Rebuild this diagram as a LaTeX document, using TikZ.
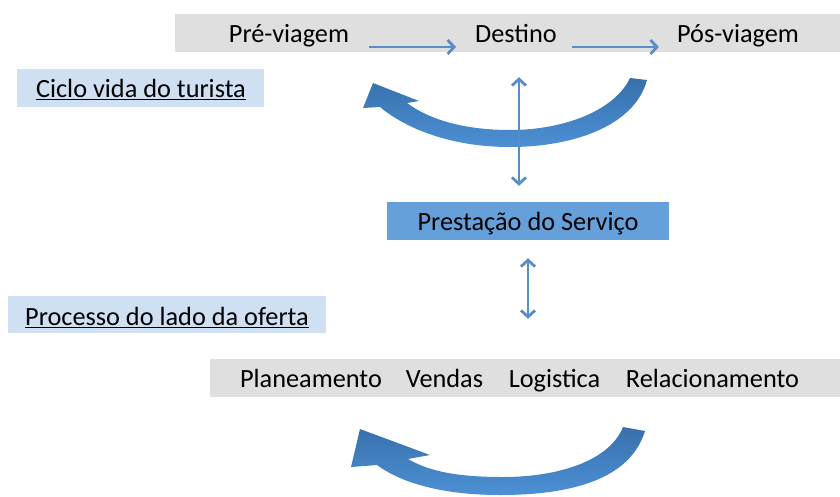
\documentclass[tikz,border=0pt]{standalone}
\usepackage{fontspec}
\setmainfont{Carlito}
\usetikzlibrary{arrows.meta}
\definecolor{barGray}{RGB}{223,223,223}
\definecolor{lightBlue}{RGB}{207,224,242}
\definecolor{servBlue}{RGB}{101,160,219}
\definecolor{arrBlue}{RGB}{88,141,200}
\definecolor{bandTop}{RGB}{56,112,172}
\definecolor{bandBot}{RGB}{76,144,212}
\begin{document}
\begin{tikzpicture}[x=1pt,y=-1pt,
  lbl/.style={font=\fontsize{26.3}{30}\selectfont, text height=18pt, text depth=0pt, inner sep=0pt},
  bar/.style={fill=barGray, inner sep=0pt, minimum height=38pt},
  tagbox/.style={fill=lightBlue, inner sep=0pt, minimum height=38pt},
  ul/.style={line width=1.7pt, black},
  arr/.style={draw=arrBlue, line width=2.8pt, -{Straight Barb[length=6.5pt,width=14pt,line width=2.8pt]}},
  dbl/.style={draw=arrBlue, line width=2.8pt, {Straight Barb[length=6.5pt,width=14pt,line width=2.8pt]}-{Straight Barb[length=6.5pt,width=14pt,line width=2.8pt]}},
  band/.style={top color=bandTop, bottom color=bandBot}
]
\useasboundingbox (0,0) rectangle (840,496);

% top bar
\node[bar, minimum width=665pt] (bar1) at (507.5,33) {};
\node[lbl] (pre) at (289,33) {Pré-viagem};
\node[lbl] (dest) at (516,33) {Destino};
\node[lbl] (pos) at (738,33) {Pós-viagem};
\draw[arr, shorten <=20pt, shorten >=19pt] ([yshift=-14pt]pre.east) -- ([yshift=-14pt]dest.west);
\draw[arr, shorten <=15pt, shorten >=18pt] ([yshift=-14pt]dest.east) -- ([yshift=-14pt]pos.west);

% ciclo tag
\node[tagbox, minimum width=247pt] (ciclo) at (140.5,88) {};
\node[lbl] (cicloT) at (141,88) {Ciclo vida do turista};
\draw[ul] ([yshift=-2.5pt]cicloT.base west) -- ([yshift=-2.5pt]cicloT.base east);

% top curved arrow
\shade[band] (647,80) .. controls (635,125) and (575,147) .. (510,147)
  .. controls (450,147) and (405,128) .. (380,107) -- (363,108) -- (373,83) -- (419,101) -- (407,103)
  .. controls (430,120) and (465,130) .. (510,130)
  .. controls (565,130) and (615,110) .. (630,78) -- cycle;

% service box
\node[lbl, fill=servBlue, minimum width=282pt, minimum height=38pt] (prest) at (528,221) {Prestação do Serviço};
\draw[dbl, shorten <=35pt, shorten >=16pt] ([xshift=3pt]dest.south) -- ([xshift=3pt]dest.south |- prest.north);

% processo tag
\node[tagbox, minimum width=318pt, minimum height=37pt] (proc) at (167,314.5) {};
\node[lbl] (procT) at (167,316) {Processo do lado da oferta};
\draw[ul] ([yshift=-2.5pt]procT.base west) -- ([yshift=-2.5pt]procT.base east);

% bottom bar
\node[bar, minimum width=630pt] (bar2) at (525,378) {};
\node[lbl] (plan) at (311,378) {Planeamento};
\node[lbl] (vend) at (444.5,378) {Vendas};
\node[lbl] (logi) at (554.5,378) {Logistica};
\node[lbl] (rela) at (712.5,378) {Relacionamento};
\draw[dbl, shorten <=18pt, shorten >=40pt] (prest.south) -- (prest.south |- bar2.north);

% bottom curved arrow
\shade[band] (645,431) .. controls (630,480) and (570,495) .. (500,495)
  .. controls (440,495) and (400,482) .. (377,465) -- (351,467) -- (360,429) -- (430,455) -- (408,459)
  .. controls (430,472) and (460,477) .. (503,477)
  .. controls (560,477) and (610,460) .. (623,427) -- cycle;
\end{tikzpicture}
\end{document}
